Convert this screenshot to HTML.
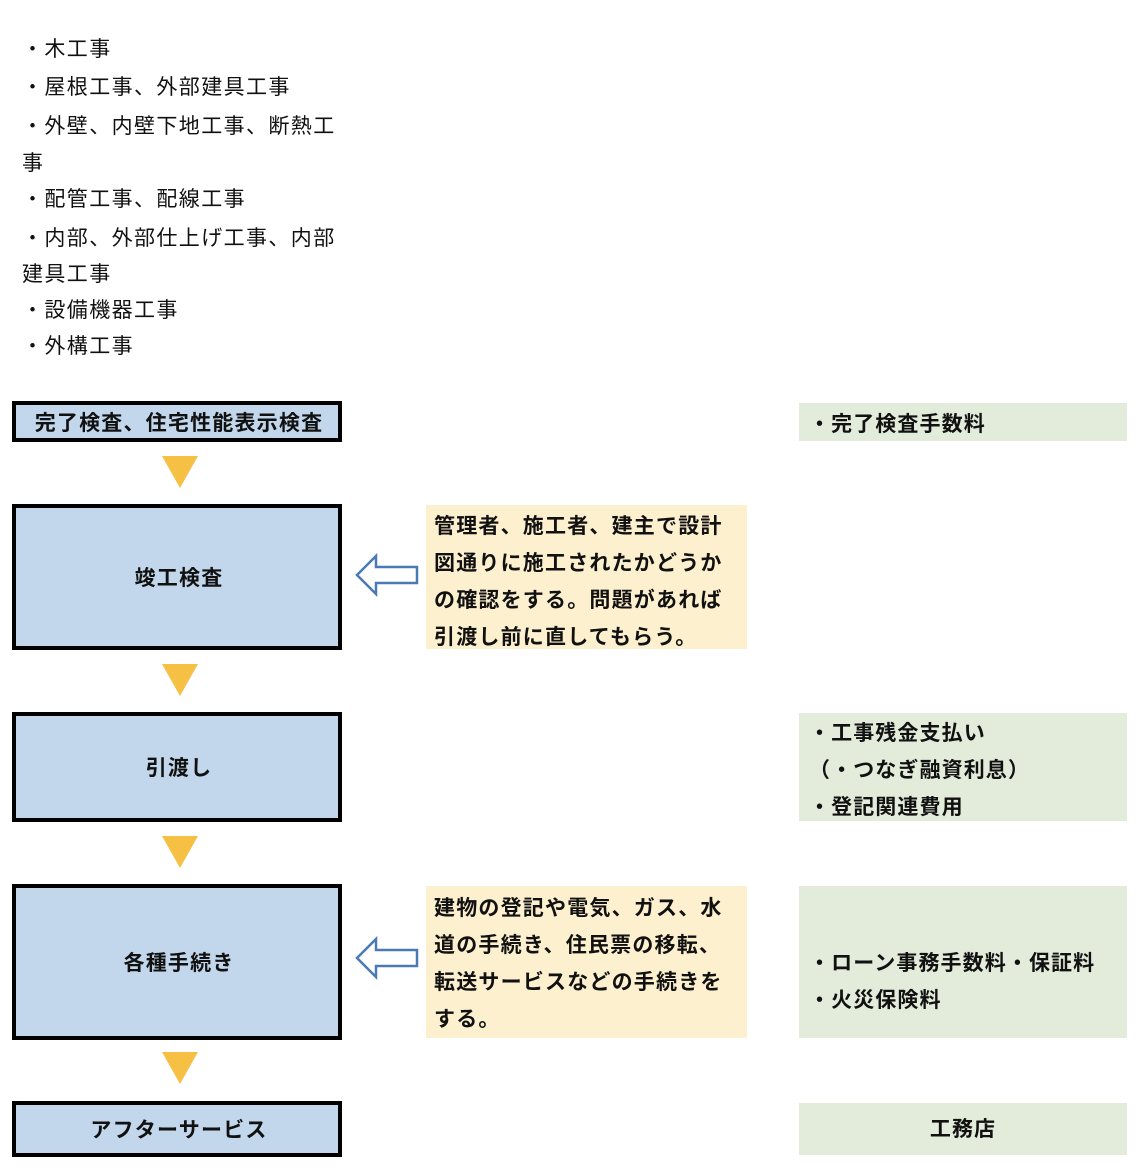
<!DOCTYPE html>
<html><head><meta charset="utf-8"><style>
body{margin:0;width:1140px;height:1172px;background:#fff;position:relative;font-family:"Liberation Sans","Noto Sans CJK JP",sans-serif;color:#111}
.a{position:absolute;box-sizing:border-box}
.l{position:absolute;left:22px;font-size:21px;line-height:24px;white-space:nowrap;letter-spacing:1.4px}
.box{background:#c2d7eb;border:4px solid #000;display:flex;align-items:center;justify-content:center;font-weight:bold;font-size:21px;left:12px;width:330px;letter-spacing:1.2px;padding-left:4px}
.y{background:#fdf0cf;font-weight:bold;font-size:21px;line-height:37px;padding:3px 0 0 8px;left:426px;width:321px;letter-spacing:1.2px;white-space:nowrap}
.g{background:#e3ecdb;font-weight:bold;font-size:21px;line-height:37px;padding-left:10px;left:799px;width:328px;letter-spacing:1.1px;white-space:nowrap}
.t{position:absolute;left:162px;width:0;height:0;border-left:18px solid transparent;border-right:18px solid transparent;border-top:32px solid #f5c043}
</style></head><body>
<div class="l" style="top:38px">・木工事</div>
<div class="l" style="top:76px">・屋根工事、外部建具工事</div>
<div class="l" style="top:115px">・外壁、内壁下地工事、断熱工</div>
<div class="l" style="top:152px">事</div>
<div class="l" style="top:188px">・配管工事、配線工事</div>
<div class="l" style="top:227px">・内部、外部仕上げ工事、内部</div>
<div class="l" style="top:263px">建具工事</div>
<div class="l" style="top:299px">・設備機器工事</div>
<div class="l" style="top:335px">・外構工事</div>

<div class="a box" style="top:401px;height:41px">完了検査、住宅性能表示検査</div>
<div class="t" style="top:456px"></div>
<div class="a box" style="top:504px;height:146px">竣工検査</div>
<div class="t" style="top:664px"></div>
<div class="a box" style="top:712px;height:110px">引渡し</div>
<div class="t" style="top:836px"></div>
<div class="a box" style="top:884px;height:156px">各種手続き</div>
<div class="t" style="top:1052px"></div>
<div class="a box" style="top:1101px;height:56px">アフターサービス</div>

<svg class="a" style="left:354px;top:553px" width="66" height="46"><polygon points="3,22 22,3 22,14 63,14 63,30 22,30 22,41" fill="#fff" stroke="#4a7ab5" stroke-width="2.5"/></svg>
<svg class="a" style="left:354px;top:936px" width="66" height="46"><polygon points="3,22 22,3 22,14 63,14 63,30 22,30 22,41" fill="#fff" stroke="#4a7ab5" stroke-width="2.5"/></svg>

<div class="a y" style="top:505px;height:144px">管理者、施工者、建主で設計<br>図通りに施工されたかどうか<br>の確認をする。問題があれば<br>引渡し前に直してもらう。</div>
<div class="a y" style="top:886px;height:152px;padding-top:4px">建物の登記や電気、ガス、水<br>道の手続き、住民票の移転、<br>転送サービスなどの手続きを<br>する。</div>

<div class="a g" style="top:403px;height:38px;padding-top:3px">・完了検査手数料</div>
<div class="a g" style="top:713px;height:108px;padding-top:2px">・工事残金支払い<br>（・つなぎ融資利息）<br>・登記関連費用</div>
<div class="a g" style="top:886px;height:152px;padding-top:59px">・ローン事務手数料・保証料<br>・火災保険料</div>
<div class="a g" style="top:1103px;height:52px;display:flex;align-items:center;justify-content:center;padding:0">工務店</div>
</body></html>
